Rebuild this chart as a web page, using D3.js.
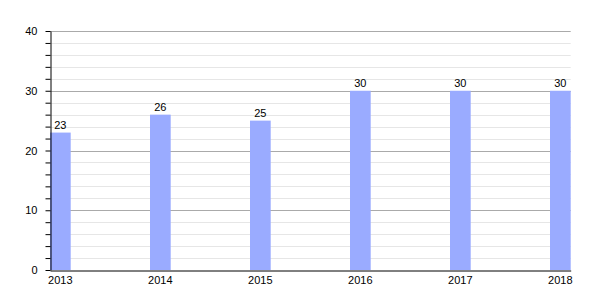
<!DOCTYPE html>
<html>
  <head>
    <meta charset="utf-8">
    <title>Bar Chart</title>
    <style>
    body { margin: 0; background: #fff; }
    svg { font-family: "Liberation Sans", Arial, sans-serif; }
    .bar { fill: #9aabff; }
    .grid-minor line { stroke: #e6e6e6; }
    .grid-major line { stroke: #aaaaaa; }
    .axis path, .axis line { stroke: #000; }
    .axis text { font-size: 11px; fill: #000; }
    .label { font-size: 11px; fill: #000; text-anchor: middle; }
    </style>
  </head>
  <body>
    <svg width="600" height="300"></svg>
    <script src="https://d3js.org/d3.v7.min.js"></script>
    <script>

      var years = ["2013", "2014", "2015", "2016", "2017", "2018"];
      var values = [23, 26, 25, 30, 30, 30];
      var majorTicks = [0, 10, 20, 30, 40];
      var minorTicks = [2, 4, 6, 8, 12, 14, 16, 18, 22, 24, 26, 28, 32, 34, 36, 38];

      var svg = d3.select("svg"),
          plotLeft = 50, plotRight = 570.7, plotTop = 31, plotBottom = 270;

      var x = d3.scaleBand().domain(years).range([plotLeft, plotRight]).paddingInner(0.793).paddingOuter(0),
          y = d3.scaleLinear().domain([0, 40]).range([plotBottom, plotTop]);

      // gridlines
      svg.append("g").attr("class", "grid-minor")
        .selectAll("line").data(minorTicks).enter().append("line")
          .attr("x1", plotLeft).attr("x2", plotRight)
          .attr("y1", function(d) { return Math.round(y(d)) + 0.5; })
          .attr("y2", function(d) { return Math.round(y(d)) + 0.5; });

      svg.append("g").attr("class", "grid-major")
        .selectAll("line").data(majorTicks.slice(1)).enter().append("line")
          .attr("x1", plotLeft).attr("x2", plotRight)
          .attr("y1", function(d) { return Math.round(y(d)) + 0.5; })
          .attr("y2", function(d) { return Math.round(y(d)) + 0.5; });

      svg.selectAll(".bar")
        .data(values)
        .enter().append("rect")
          .attr("class", "bar")
          .attr("x", function(d, i) { return x(years[i]); })
          .attr("y", function(d) { return y(d); })
          .attr("width", x.bandwidth())
          .attr("height", function(d) { return plotBottom - y(d); });

      svg.selectAll(".label")
        .data(values)
        .enter().append("text")
          .attr("class", "label")
          .attr("x", function(d, i) { return x(years[i]) + x.bandwidth() / 2; })
          .attr("y", function(d) { return y(d) - 4; })
          .text(function(d) { return d; });

      // y axis with minor ticks
      svg.append("g")
          .attr("class", "axis axis--y")
          .attr("transform", "translate(" + (plotLeft + 0.5) + ",0)")
          .call(d3.axisLeft(y)
            .tickValues(majorTicks.concat(minorTicks))
            .tickSize(5)
            .tickSizeOuter(0)
            .tickPadding(8)
            .tickFormat(function(d) { return d % 10 === 0 ? d : ""; }));

      // x axis
      svg.append("g")
          .attr("class", "axis axis--x")
          .attr("transform", "translate(0," + (plotBottom + 0.5) + ")")
          .call(d3.axisBottom(x).tickSize(0).tickSizeOuter(0).tickPadding(6));

    </script>
  </body>
</html>
